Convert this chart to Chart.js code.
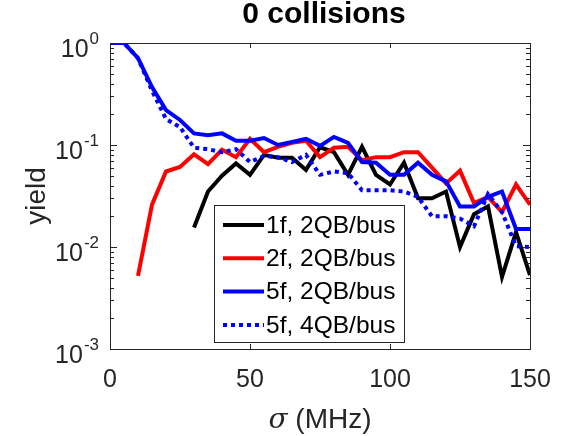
<!DOCTYPE html>
<html>
<head>
<meta charset="utf-8">
<script src="https://cdn.jsdelivr.net/npm/chart.js@4"></script>
<style>
  html, body { margin: 0; padding: 0; background: #fff; }
  #wrap { width: 565px; height: 436px; }
</style>
</head>
<body>
<div id="wrap"><canvas id="grafico" width="565" height="436"></canvas></div>
<script>
// sigma (MHz), passo de 5
const sigma = [0, 5, 10, 15, 20, 25, 30, 35, 40, 45, 50, 55, 60, 65, 70, 75,
               80, 85, 90, 95, 100, 105, 110, 115, 120, 125, 130, 135, 140, 145, 150];

const yield1f2QB = [null, null, null, null, null, null, 0.0155, 0.035, 0.05, 0.066, 0.051, 0.08, 0.075, 0.075, 0.057, 0.095,
                    0.085, 0.051, 0.096, 0.051, 0.041, 0.067, 0.030, 0.030, 0.035, 0.010, 0.021, 0.025, 0.0051, 0.014, 0.0053];
const yield2f2QB = [null, null, 0.0052, 0.026, 0.055, 0.061, 0.081, 0.065, 0.09, 0.076, 0.115, 0.085, 0.096, 0.105, 0.11, 0.076,
                    0.094, 0.096, 0.071, 0.076, 0.076, 0.085, 0.085, 0.06, 0.042, 0.056, 0.027, 0.031, 0.022, 0.041, 0.026];
const yield5f2QB = [1.0, 1.0, 0.71, 0.37, 0.22, 0.176, 0.13, 0.125, 0.13, 0.11, 0.11, 0.117, 0.10, 0.107, 0.115, 0.098,
                    0.12, 0.105, 0.068, 0.067, 0.051, 0.051, 0.067, 0.051, 0.044, 0.025, 0.025, 0.031, 0.035, 0.015, 0.015];
const yield5f4QB = [1.0, 1.0, 0.71, 0.34, 0.18, 0.15, 0.094, 0.091, 0.085, 0.091, 0.068, 0.078, 0.076, 0.068, 0.08, 0.051,
                    0.055, 0.053, 0.036, 0.036, 0.036, 0.035, 0.031, 0.020, 0.020, 0.019, 0.016, 0.033, 0.022, 0.0102, 0.010];

const legendas = ["1f, 2QB/bus", "2f, 2QB/bus", "5f, 2QB/bus", "5f, 4QB/bus"];
const xTicks = [0, 50, 100, 150];
const yTicks = [0.001, 0.01, 0.1, 1];
const yExpoentes = ["-3", "-2", "-1", "0"];

const COR_EIXO = "#262626";
const FONTE = "'Liberation Sans', Arial, Helvetica, sans-serif";

function pontos(valores) {
    return sigma.map((s, i) => ({ x: s, y: valores[i] }));
}

// Eixos no estilo MATLAB: caixa, ticks para dentro, rotulos com expoente
const eixosMatlab = {
    id: "eixosMatlab",
    afterDraw(chart) {
        const ctx = chart.ctx;
        const a = chart.chartArea;
        const sx = chart.scales.x;
        const sy = chart.scales.y;
        ctx.save();
        ctx.strokeStyle = COR_EIXO;
        ctx.lineWidth = 1;

        // ticks menores do log
        ctx.beginPath();
        for (let d = -3; d < 0; d++) {
            for (let m = 2; m <= 9; m++) {
                const py = Math.round(sy.getPixelForValue(m * Math.pow(10, d))) + 0.5;
                ctx.moveTo(a.left, py); ctx.lineTo(a.left + 4, py);
                ctx.moveTo(a.right, py); ctx.lineTo(a.right - 4, py);
            }
        }
        yTicks.forEach(v => {
            const py = Math.round(sy.getPixelForValue(v)) + 0.5;
            ctx.moveTo(a.left, py); ctx.lineTo(a.left + 7, py);
            ctx.moveTo(a.right, py); ctx.lineTo(a.right - 7, py);
        });
        xTicks.forEach(v => {
            const px = Math.round(sx.getPixelForValue(v)) + 0.5;
            ctx.moveTo(px, a.bottom); ctx.lineTo(px, a.bottom - 5);
            ctx.moveTo(px, a.top); ctx.lineTo(px, a.top + 5);
        });
        ctx.stroke();

        // caixa
        ctx.strokeRect(Math.round(a.left) + 0.5, Math.round(a.top) + 0.5,
                       Math.round(a.right - a.left), Math.round(a.bottom - a.top));

        // rotulos x
        ctx.fillStyle = COR_EIXO;
        ctx.font = "25px " + FONTE;
        ctx.textAlign = "center";
        ctx.textBaseline = "alphabetic";
        xTicks.forEach(v => ctx.fillText(String(v), sx.getPixelForValue(v), a.bottom + 38));

        // rotulos y (10^n)
        yTicks.forEach((v, i) => {
            const py = sy.getPixelForValue(v);
            ctx.font = "17px " + FONTE;
            ctx.textAlign = "right";
            const wExp = ctx.measureText(yExpoentes[i]).width;
            ctx.fillText(yExpoentes[i], 99, py + 1);
            ctx.font = "25px " + FONTE;
            ctx.fillText("10", 99 - wExp - 1, py + 14);
        });

        // titulo
        ctx.font = "bold 30px " + FONTE;
        ctx.textAlign = "center";
        ctx.fillStyle = "#000";
        ctx.fillText("0 collisions", (a.left + a.right) / 2 + 4, 23);

        // rotulo x com sigma italico
        ctx.fillStyle = COR_EIXO;
        ctx.textAlign = "left";
        ctx.font = "italic 28px 'DejaVu Serif', serif";
        const wSig = ctx.measureText("\u03C3").width;
        ctx.font = "28px " + FONTE;
        const wResto = ctx.measureText(" (MHz)").width;
        const x0 = (a.left + a.right) / 2 - (wSig + wResto) / 2;
        ctx.font = "italic 28px 'DejaVu Serif', serif";
        ctx.fillText("\u03C3", x0, 428);
        ctx.font = "28px " + FONTE;
        ctx.fillText(" (MHz)", x0 + wSig, 428);

        // rotulo y
        ctx.save();
        ctx.translate(37, (a.top + a.bottom) / 2);
        ctx.rotate(-Math.PI / 2);
        ctx.textAlign = "center";
        ctx.textBaseline = "middle";
        ctx.font = "28px " + FONTE;
        ctx.fillText("yield", 0, 0);
        ctx.restore();

        // legenda
        const lx = 214.5, ly = 205.5, lw = 190, lh = 137;
        ctx.fillStyle = "#fff";
        ctx.fillRect(lx, ly, lw, lh);
        ctx.strokeStyle = COR_EIXO;
        ctx.lineWidth = 1;
        ctx.strokeRect(lx, ly, lw, lh);
        ctx.font = "24.5px " + FONTE;
        ctx.textBaseline = "middle";
        ctx.textAlign = "left";
        chart.data.datasets.forEach((ds, i) => {
            const yy = 225 + i * 33.3;
            ctx.beginPath();
            ctx.strokeStyle = ds.borderColor;
            ctx.lineWidth = ds.borderWidth;
            ctx.setLineDash(ds.borderDash || []);
            ctx.moveTo(223, yy); ctx.lineTo(264, yy);
            ctx.stroke();
            ctx.setLineDash([]);
            ctx.fillStyle = "#000";
            ctx.fillText(legendas[i], 266, yy + 1);
        });
        ctx.restore();
    }
};

const ctx = document.getElementById("grafico").getContext("2d");

const grafico = new Chart(ctx, {
    type: "line",
    data: {
        datasets: [
            { label: legendas[0], data: pontos(yield1f2QB), borderColor: "#000000", borderWidth: 4, order: 4 },
            { label: legendas[1], data: pontos(yield2f2QB), borderColor: "#ff0000", borderWidth: 4, order: 3 },
            { label: legendas[2], data: pontos(yield5f2QB), borderColor: "#0000ff", borderWidth: 4, order: 2 },
            { label: legendas[3], data: pontos(yield5f4QB), borderColor: "#0000ff", borderWidth: 4, borderDash: [4, 4], order: 1 }
        ]
    },
    options: {
        responsive: false,
        animation: false,
        devicePixelRatio: 1,
        layout: { padding: { top: 43, right: 35, left: 0, bottom: 0 } },
        elements: {
            point: { radius: 0, hoverRadius: 0 },
            line: { tension: 0, fill: false, borderCapStyle: "butt", borderJoinStyle: "miter" }
        },
        plugins: {
            legend: { display: false },
            title: { display: false },
            tooltip: { enabled: false }
        },
        scales: {
            x: {
                type: "linear",
                min: 0,
                max: 150,
                grid: { display: false },
                border: { display: false },
                ticks: { display: false, stepSize: 50 },
                afterFit: s => { s.height = 87; }
            },
            y: {
                type: "logarithmic",
                min: 0.001,
                max: 1,
                grid: { display: false },
                border: { display: false },
                ticks: { display: false },
                afterFit: s => { s.width = 110; }
            }
        }
    },
    plugins: [eixosMatlab]
});
</script>
</body>
</html>
